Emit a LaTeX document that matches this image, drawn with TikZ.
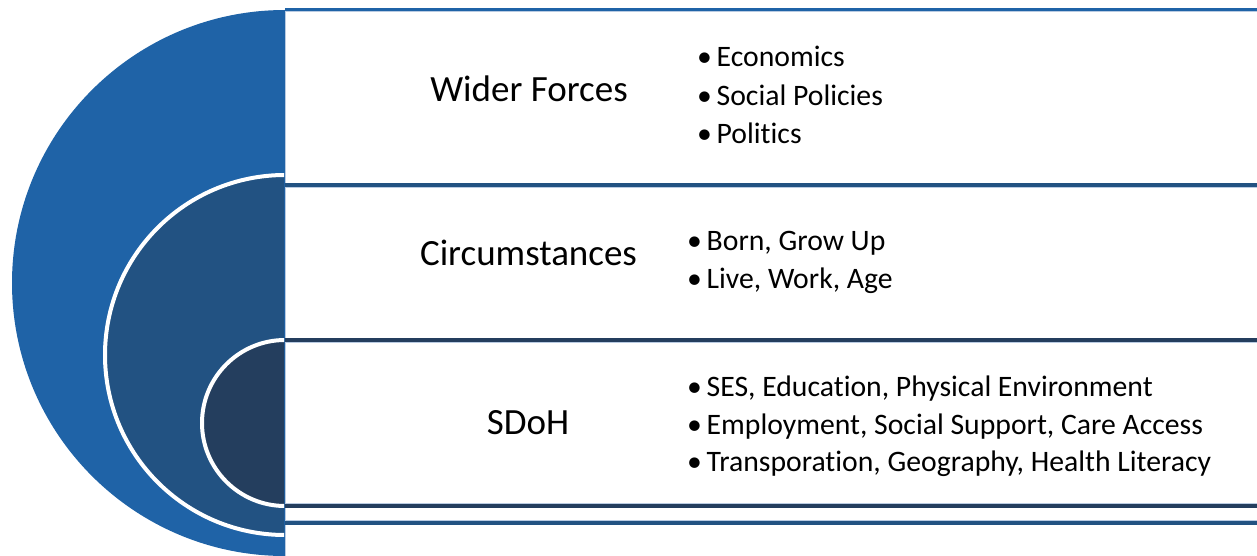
\documentclass[tikz,border=0pt]{standalone}
\usepackage{fontspec}
\setmainfont{Carlito}[Ligatures={CommonOff,ContextualOff}]
\definecolor{bigblue}{HTML}{1F63A7}
\definecolor{midblue}{HTML}{225282}
\definecolor{navy}{HTML}{243E5E}
\definecolor{edge}{HTML}{B9CBE2}
\tikzset{
  band/.style={fill=white, draw=edge, line width=0.8pt},
  ring/.style={draw=white, line width=4pt},
  head/.style={anchor=base, inner sep=0pt, font=\fontsize{37}{44}\selectfont},
  item/.style={anchor=base west, inner sep=0pt, font=\fontsize{29.7}{35}\selectfont},
}
\newcommand{\bul}[1]{\makebox[19.5pt][l]{\textbullet}#1}
\begin{document}
\begin{tikzpicture}[x=1pt,y=-1pt]
\useasboundingbox (0,0) rectangle (1257,556);
% large circle and its band
\begin{scope}
  \clip (0,0) rectangle (285,556);
  \fill[bigblue] (285,283) circle (273);
\end{scope}
\draw[band] (285,11.5) rectangle (1262,570);
\draw[bigblue, line width=3pt] (285,9.5) -- (1262,9.5);
% middle circle and its band
\begin{scope}
  \clip (0,0) rectangle (284,556);
  \filldraw[fill=midblue, ring] (285,355) circle (180);
\end{scope}
\draw[band] (285,187.5) rectangle (1262,520);
\draw[midblue, line width=4pt] (285,185) -- (1262,185);
\draw[midblue, line width=4pt] (285,522.5) -- (1262,522.5);
% small circle and its band
\begin{scope}
  \clip (0,0) rectangle (284,556);
  \filldraw[fill=navy, ring] (285,423) circle (83);
\end{scope}
\draw[band] (285,342.5) rectangle (1262,503);
\draw[navy, line width=4pt] (285,340) -- (1262,340);
\draw[navy, line width=4pt] (285,505.5) -- (1262,505.5);
% headings
\node[head] (h1) at (529,102) {Wider Forces};
\node[head] (h2) at (528.5,265) {Circumstances};
\node[head] (h3) at (528,434) {SDoH};
% list 1
\node[item] (a1) at (697,67) {\bul{Economics}};
\node[item] (a2) at (697,105.5) {\bul{Social Policies}};
\node[item] (a3) at (697,144) {\bul{Politics}};
% list 2
\node[item] (b1) at (687,250) {\bul{Born, Grow Up}};
\node[item] (b2) at (687,288.5) {\bul{Live, Work, Age}};
% list 3
\node[item] (c1) at (687,396.5) {\bul{SES, Education, Physical Environment}};
\node[item] (c2) at (687,434) {\bul{Employment, Social Support, Care Access}};
\node[item] (c3) at (687,471.5) {\bul{Transporation, Geography, Health Literacy}};
\end{tikzpicture}
\end{document}
